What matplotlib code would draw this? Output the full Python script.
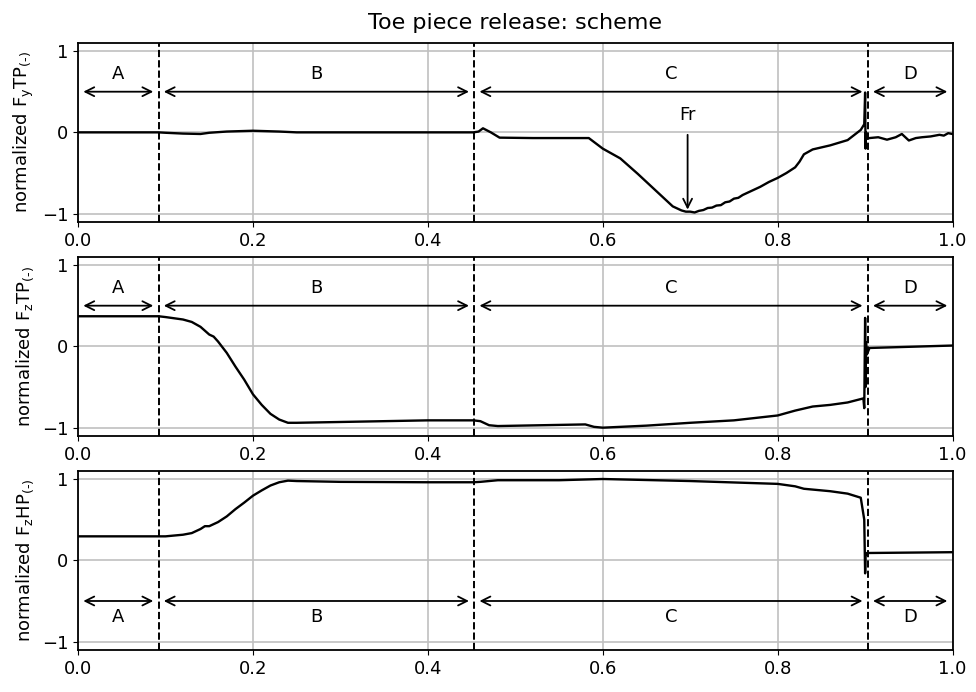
import numpy as np
import matplotlib
matplotlib.use('Agg')
import matplotlib.pyplot as plt

# data (normalized time vs normalized force) #################################
t_ytp = [0.0, 0.092, 0.10, 0.12, 0.14, 0.15, 0.17, 0.20, 0.23, 0.25, 0.30, 0.40,
         0.452, 0.458, 0.463, 0.472, 0.482, 0.52, 0.584, 0.60, 0.62, 0.64, 0.66,
         0.68, 0.69, 0.695, 0.70, 0.705, 0.71, 0.715, 0.72, 0.725, 0.73, 0.735,
         0.74, 0.745, 0.75, 0.755, 0.76, 0.77, 0.78, 0.79, 0.80, 0.81, 0.82,
         0.825, 0.83, 0.84, 0.86, 0.88, 0.895, 0.899, 0.9, 0.9005, 0.901, 0.902,
         0.905, 0.915, 0.925, 0.935, 0.942, 0.95, 0.958, 0.965, 0.975, 0.985,
         0.99, 0.995, 1.0]
f_ytp = [0.0, 0.0, -0.005, -0.015, -0.02, -0.005, 0.01, 0.02, 0.01, 0.0, 0.0, 0.0,
         0.0, 0.01, 0.05, 0.0, -0.065, -0.07, -0.07, -0.2, -0.32, -0.51, -0.71,
         -0.91, -0.96, -0.975, -0.975, -0.985, -0.965, -0.955, -0.93, -0.925, -0.9, -0.895,
         -0.86, -0.85, -0.815, -0.805, -0.77, -0.72, -0.67, -0.61, -0.56, -0.5, -0.43,
         -0.36, -0.27, -0.21, -0.16, -0.095, 0.03, 0.1, 0.49, -0.2, 0.0, -0.08,
         -0.07, -0.06, -0.09, -0.06, -0.02, -0.1, -0.07, -0.06, -0.05, -0.03,
         -0.04, -0.01, -0.02]

t_ztp = [0.0, 0.092, 0.10, 0.12, 0.13, 0.14, 0.15, 0.155, 0.16, 0.17, 0.18, 0.19,
         0.20, 0.21, 0.22, 0.23, 0.24, 0.25, 0.30, 0.40, 0.452, 0.46, 0.47, 0.48,
         0.58, 0.59, 0.60, 0.65, 0.70, 0.75, 0.80, 0.82, 0.84, 0.86, 0.88, 0.898,
         0.899, 0.9, 0.9005, 0.901, 0.902, 0.905, 1.0]
f_ztp = [0.37, 0.37, 0.36, 0.33, 0.30, 0.24, 0.145, 0.12, 0.06, -0.08, -0.25, -0.41,
         -0.59, -0.72, -0.83, -0.90, -0.94, -0.94, -0.93, -0.91, -0.91, -0.92, -0.97, -0.98,
         -0.96, -0.99, -1.0, -0.975, -0.94, -0.91, -0.85, -0.79, -0.74, -0.72, -0.69, -0.64,
         -0.76, 0.35, -0.5, 0.05, -0.1, -0.02, 0.01]

t_zhp = [0.0, 0.092, 0.10, 0.12, 0.13, 0.14, 0.145, 0.15, 0.16, 0.17, 0.18, 0.19,
         0.20, 0.21, 0.22, 0.23, 0.24, 0.25, 0.30, 0.40, 0.452, 0.46, 0.48, 0.55,
         0.60, 0.70, 0.80, 0.82, 0.83, 0.86, 0.88, 0.895, 0.899, 0.9, 0.9005, 0.902, 1.0]
f_zhp = [0.295, 0.295, 0.295, 0.315, 0.335, 0.385, 0.42, 0.42, 0.47, 0.54, 0.63, 0.71,
         0.795, 0.86, 0.92, 0.96, 0.98, 0.975, 0.965, 0.96, 0.96, 0.965, 0.985, 0.985,
         1.0, 0.975, 0.94, 0.91, 0.88, 0.85, 0.82, 0.77, 0.5, -0.16, 0.05, 0.09, 0.10]

phase_bounds = [0.0, 0.092, 0.453, 0.903, 1.0]
phase_names = ['A', 'B', 'C', 'D']

unit = r'$_\mathregular{(\text{-})}$'
panels = [
    (t_ytp, f_ytp, r'normalized F$_\mathregular{y}$TP' + unit, 0.5, 0.72),
    (t_ztp, f_ztp, r'normalized F$_\mathregular{z}$TP' + unit, 0.5, 0.72),
    (t_zhp, f_zhp, r'normalized F$_\mathregular{z}$HP' + unit, -0.5, -0.70),
]

plt.rc('font', **{'size': 13})

fig, axes = plt.subplots(3, 1, figsize=(9.76, 6.92), dpi=100)
plt.subplots_adjust(left=0.080, right=0.976, top=0.938, bottom=0.061, hspace=0.196)

for ax, (t, f, lab, y_arr, y_txt) in zip(axes, panels):
    ax.plot(t, f, color='black', linewidth=1.7)
    for b in phase_bounds[1:-1]:
        ax.axvline(b, color='black', linestyle='--', linewidth=1.4)
    # phase arrows
    for i, name in enumerate(phase_names):
        x0 = phase_bounds[i] + 0.006
        x1 = phase_bounds[i + 1] - 0.006
        ax.annotate('', xy=(x0, y_arr), xytext=(x1, y_arr),
                    arrowprops=dict(arrowstyle='<->', color='black', linewidth=1.3,
                                    shrinkA=0, shrinkB=0, mutation_scale=16))
        ax.text((x0 + x1) / 2, y_txt, name, ha='center', va='center', fontsize=13)
    ax.set_xlim(0, 1)
    ax.set_ylim(-1.1, 1.1)
    ax.set_xticks([0.0, 0.2, 0.4, 0.6, 0.8, 1.0])
    ax.set_yticks([-1, 0, 1])
    ax.grid(True, color='#c0c0c0', linewidth=1.2)
    ax.set_axisbelow(True)
    ax.set_ylabel(lab)
    for sp in ax.spines.values():
        sp.set_linewidth(1.3)

# Fr marker on the yTP panel
axes[0].text(0.697, 0.21, 'Fr', ha='center', va='center', fontsize=13)
axes[0].annotate('', xy=(0.697, -0.95), xytext=(0.697, -0.03),
                 arrowprops=dict(arrowstyle='->', color='black', linewidth=1.3,
                                 shrinkA=0, shrinkB=0, mutation_scale=16))

axes[0].set_title('Toe piece release: scheme', fontsize=16, pad=10)

plt.savefig('out.png', dpi=100)
